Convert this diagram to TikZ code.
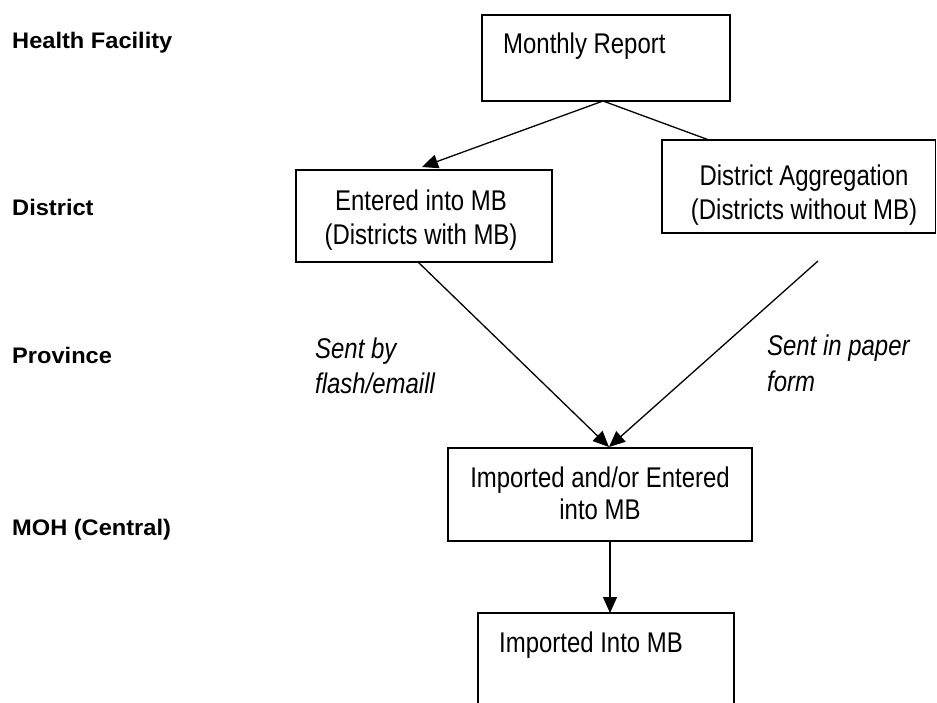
\documentclass[tikz,border=0pt]{standalone}
\usepackage{fontspec}
\setmainfont[FakeStretch=0.84]{Liberation Sans}
\newfontfamily\lblfont[FakeStretch=1.05]{Liberation Sans}
\usetikzlibrary{arrows.meta,calc}
\begin{document}
\begin{tikzpicture}[x=1pt,y=-1pt,
  boxst/.style={draw, line width=1.6pt, inner sep=0pt, outer sep=0pt, anchor=north west},
  txt/.style={inner sep=0pt, anchor=base, font=\fontsize{28.5}{34}\selectfont},
  txtl/.style={txt, anchor=base west},
  itl/.style={txtl, font=\fontsize{28.5}{34}\selectfont\itshape},
  lvl/.style={inner sep=0pt, anchor=base west, font=\lblfont\bfseries\fontsize{22.5}{27}\selectfont},
  conn/.style={line width=1.3pt},
  arr/.style={conn, -{Triangle[length=16pt,width=14pt]}}]
\useasboundingbox (0,0) rectangle (937,702);
\clip (0,0) rectangle (937,702);

% level labels
\node[lvl] (lhf) at (12,48) {Health Facility};
\node[lvl] (ldi) at (12,215.5) {District};
\node[lvl] (lpr) at (12,363) {Province};
\node[lvl] (lmo) at (12,535.5) {MOH (Central)};

% boxes
\node[boxst, minimum width=248pt, minimum height=86pt] (mr) at (482,15) {};
\node[boxst, minimum width=256pt, minimum height=92pt] (ent) at (296,170) {};
\node[boxst, minimum width=273.5pt, minimum height=93pt] (dist) at (662,140) {};
\node[boxst, minimum width=304pt, minimum height=93pt] (imp) at (448,448) {};
\node[boxst, minimum width=256pt, minimum height=120pt] (moh) at (478,613) {};

% box texts
\node[txtl] (mrt) at (503,53) {Monthly Report};
\node[txt] (ent1) at (421,210.5) {Entered into MB};
\node[txt] (ent2) at (421,244) {(Districts with MB)};
\node[txt] (dis1) at (804,185.5) {District Aggregation};
\node[txt] (dis2) at (804,219.5) {(Districts without MB)};
\node[txt] (imp1) at (600,487) {Imported and/or Entered};
\node[txt] (imp2) at (600,519.5) {into MB};
\node[txtl] (moht) at (499,652) {Imported Into MB};

% edge labels
\node[itl] (sb1) at (315,358) {Sent by};
\node[itl] (sb2) at (315,393) {flash/emaill};
\node[itl] (sp1) at (767,355) {Sent in paper};
\node[itl] (sp2) at (767,391.5) {form};

% connectors
\coordinate (pp) at (818,261);
\draw[arr] ($(mr.south)+(-3,0)$) -- ($(ent.north)+(-2,-3)$);
\draw[conn] ($(mr.south)+(-3,0)$) -- ($(dist.north west)+(47,0)$);
\draw[arr] ($(ent.south)+(-6,0)$) -- ($(imp.north)+(9,-1)$);
\draw[arr] (pp) -- ($(imp.north)+(9,-1)$);
\draw[arr] ($(imp.south)+(10,0)$) -- ($(moh.north)+(4,0)$);
\end{tikzpicture}
\end{document}
